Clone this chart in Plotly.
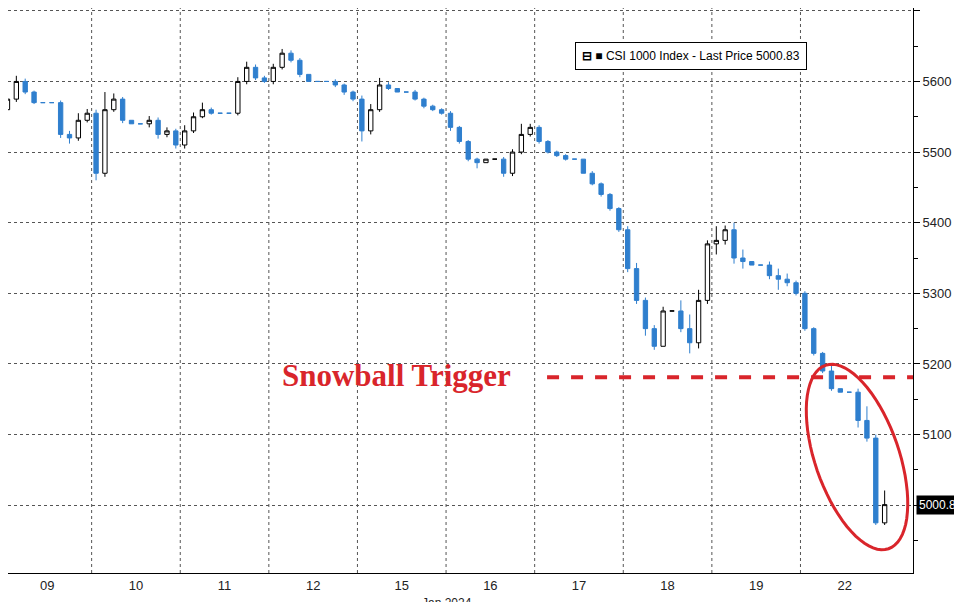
import plotly.graph_objects as go
import math

days = ["09", "10", "11", "12", "15", "16", "17", "18", "19", "22"]
first_open = 5560
closes = [
    5575, 5600, 5585, 5570, 5570, 5570, 5525, 5520, 5545, 5555,
    5470, 5560, 5575, 5545, 5540, 5540, 5545, 5525, 5530, 5510,
    5530, 5550, 5560, 5555, 5555, 5555, 5600, 5620, 5605, 5600,
    5620, 5640, 5630, 5610, 5600, 5600, 5600, 5595, 5585, 5575,
    5530, 5560, 5595, 5590, 5585, 5585, 5575, 5565, 5560, 5555,
    5535, 5515, 5490, 5485, 5490, 5490, 5470, 5500, 5525, 5535,
    5515, 5500, 5495, 5490, 5490, 5470, 5455, 5440, 5420, 5390,
    5335, 5290, 5250, 5225, 5275, 5275, 5250, 5230, 5290, 5370,
    5375, 5390, 5350, 5345, 5340, 5340, 5325, 5320, 5315, 5300,
    5250, 5215, 5190, 5165, 5160, 5160, 5120, 5095, 4975, 5000.83,
]
wick_up = [
    5, 8, 4, 2, 0, 0, 3, 5, 10, 6,
    5, 25, 8, 3, 0, 0, 6, 4, 5, 3,
    8, 6, 10, 3, 0, 0, 6, 8, 4, 3,
    5, 6, 4, 3, 0, 0, 0, 3, 2, 2,
    5, 8, 10, 4, 0, 0, 3, 2, 2, 2,
    3, 2, 2, 2, 0, 0, 3, 4, 15, 5,
    3, 2, 2, 2, 0, 0, 3, 2, 2, 2,
    5, 8, 4, 5, 6, 0, 15, 20, 15, 5,
    20, 6, 10, 12, 0, 0, 5, 10, 8, 3,
    3, 2, 2, 8, 0, 0, 5, 20, 5, 20,
]
wick_dn = [
    10, 4, 3, 2, 0, 0, 5, 8, 4, 3,
    10, 5, 3, 4, 0, 0, 5, 6, 4, 5,
    5, 3, 2, 2, 0, 0, 3, 4, 3, 2,
    4, 3, 3, 4, 0, 0, 0, 3, 4, 3,
    15, 5, 3, 2, 0, 0, 2, 3, 2, 2,
    5, 3, 3, 8, 0, 0, 5, 4, 3, 3,
    3, 2, 2, 2, 0, 0, 2, 3, 3, 3,
    5, 5, 10, 5, 0, 0, 5, 15, 8, 5,
    15, 6, 8, 10, 0, 0, 5, 15, 5, 3,
    3, 3, 3, 3, 0, 0, 10, 5, 3, 3,
]
opens = [first_open] + closes[:-1]
highs = [max(o, c) + u for o, c, u in zip(opens, closes, wick_up)]
lows = [min(o, c) - d for o, c, d in zip(opens, closes, wick_dn)]
xs = [i + 0.5 for i in range(len(closes))]
last_price = 5000.83
trigger = 5181

BLUE = "#2f7fce"
RED = "#d9252b"
fig = go.Figure(go.Candlestick(
    x=xs, open=opens, high=highs, low=lows, close=closes,
    increasing=dict(line=dict(color="black", width=1), fillcolor="white"),
    decreasing=dict(line=dict(color=BLUE, width=1), fillcolor=BLUE),
    whiskerwidth=0, showlegend=False, hoverinfo="skip"))

shapes = []
for k in range(1, len(days)):
    shapes.append(dict(type="line", xref="x", yref="paper", x0=k * 10, x1=k * 10,
                       y0=0, y1=1, line=dict(color="#555", width=1, dash="dot"), layer="below"))
shapes.append(dict(type="line", xref="x", yref="y", x0=61.4, x1=102.7, y0=trigger, y1=trigger,
                   line=dict(color=RED, width=4, dash="dash")))
cx, cy, a, b, ang = 849, 449, 97, 42, math.radians(19)
pts = []
for t in range(0, 73):
    th = t * 2 * math.pi / 72
    px = cx + b * math.cos(th) * math.cos(ang) + a * math.sin(th) * math.sin(ang)
    py = cy + a * math.sin(th) * math.cos(ang) - b * math.cos(th) * math.sin(ang)
    pts.append((px / 905, 1 - py / 565))
path = "M " + " L ".join(f"{x:.4f},{y:.4f}" for x, y in pts) + " Z"
shapes.append(dict(type="path", xref="paper", yref="paper", path=path,
                   line=dict(color=RED, width=3)))

annotations = [
    dict(text="Snowball Trigger", xref="paper", yref="y", x=0.30, y=trigger + 2,
         xanchor="left", yanchor="middle", showarrow=False,
         font=dict(family="Liberation Serif", size=31, color=RED, weight="bold")),
    dict(text="<b>⊟ ■</b> CSI 1000 Index - Last Price 5000.83", xref="paper", yref="paper",
         x=0.627, y=0.915, xanchor="left", yanchor="middle", showarrow=False,
         font=dict(family="Liberation Sans", size=12, color="black"),
         bordercolor="black", borderwidth=1, borderpad=6, bgcolor="white"),
    dict(text="5000.83", xref="paper", yref="y", x=1.003, y=last_price, xanchor="left",
         yanchor="middle", showarrow=False, bgcolor="black",
         font=dict(family="Liberation Sans", size=12, color="white"), borderpad=2),
    dict(text="Jan 2024", xref="paper", yref="paper", x=0.485, y=-0.038, xanchor="center",
         yanchor="top", showarrow=False, font=dict(family="Liberation Sans", size=12, color="#222")),
    dict(text="Australia 61 2 9777 8600 Brazil 5511 2395 9000 Europe 44 20 7330 7500 Germany 49 69 9204 1210 Hong Kong 852 2977 6000",
         xref="paper", yref="paper", x=0.46, y=-0.055, xanchor="center", yanchor="top",
         showarrow=False, font=dict(family="Liberation Sans", size=10, color="#222")),
]

fig.update_layout(
    width=962, height=602, margin=dict(l=0, r=57, t=0, b=37, autoexpand=False),
    paper_bgcolor="white", plot_bgcolor="white",
    shapes=shapes, annotations=annotations,
    xaxis=dict(range=[0.56, 102.7], rangeslider=dict(visible=False), automargin=False,
               tickvals=[k * 10 + 5 for k in range(len(days))], ticktext=days,
               showgrid=False, showline=True, linecolor="black", ticks="",
               tickfont=dict(family="Liberation Sans", size=13, color="#222")),
    yaxis=dict(side="right", range=[4904, 5704], tickvals=[5000 + 100 * i for i in range(8)],
               automargin=False,
               showgrid=True, gridcolor="#555", griddash="dot", gridwidth=1,
               showline=True, linecolor="black", ticks="outside", ticklen=6, tickcolor="black",
               minor=dict(tickvals=[4950 + 100 * i for i in range(8)], ticks="outside",
                          ticklen=4, tickcolor="black", showgrid=False),
               zeroline=False, tickfont=dict(family="Liberation Sans", size=13, color="#222")),
)
fig.write_html("out.html")
